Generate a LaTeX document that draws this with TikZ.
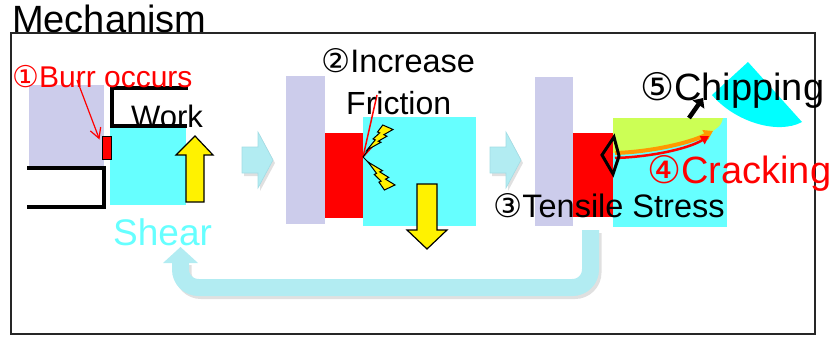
\documentclass[tikz,border=0pt]{standalone}
\usepackage{fontspec}
\setmainfont{Liberation Sans}
\newfontfamily\cnfont{DejaVu Sans}
\usepackage{xcolor}
\usepackage{tikz}
\usetikzlibrary{arrows.meta}

\definecolor{lavend}{HTML}{CCCCEB}
\definecolor{workcyan}{HTML}{66FFFF}
\definecolor{chipcyan}{HTML}{00FFFF}
\definecolor{flowblue}{HTML}{B2ECF2}
\definecolor{flowedge}{HTML}{A2DCE4}
\definecolor{crackgreen}{HTML}{CCFF55}
\definecolor{crackorange}{HTML}{FF9900}

\newcommand{\cn}[1]{{\cnfont #1}}

\tikzset{
  bolt/.pic={
    \draw[fill=yellow, draw=black, line width=1pt, line join=miter]
      (0.392,0) -- (0.595,0.281) -- (0.512,0.315) -- (0.767,0.556) -- (0.684,0.596)
      -- (1,1) -- (0.464,0.690) -- (0.566,0.648) -- (0.233,0.449) -- (0.352,0.388)
      -- (0,0.180) -- cycle;
  }
}

\begin{document}
\begin{tikzpicture}[x=1pt,y=-1pt,
    lbl/.style={inner sep=0pt, anchor=base west},
    tool/.style={line width=4pt, line join=miter},
    yarrow/.style={fill=yellow, draw=black, line width=1.2pt, line join=miter},
    flow/.style={fill=flowblue, draw=flowedge, line width=0.6pt},
    shade/.style={fill=black, opacity=0.12}]
  \useasboundingbox (0,0) rectangle (836,337);

  % frame
  \draw[line width=1.5pt, black!85] (11,33) rectangle (815,334);
  \node[lbl, font=\fontsize{38}{42}\selectfont] (title) at (12,33) {Mechanism};

  % step 1: burr
  \fill[lavend] (29,85) rectangle (104,166);
  \fill[workcyan] (110,127) rectangle (186,205);
  \draw[tool] (188,88) -- (112,88) -- (112,126) -- (187,126);
  \draw[tool] (27,168) -- (104,168) -- (104,207) -- (27,207);
  \node[draw=black, fill=red, line width=1pt, inner sep=0pt,
        minimum width=9pt, minimum height=23pt] (burr) at (106.5,147.5) {};
  \draw[yarrow] (186,202) -- (186,155) -- (176,155) -- (195,136) -- (213,155)
    -- (204,155) -- (204,202) -- cycle;
  \node[lbl, font=\fontsize{31}{36}\selectfont] (work) at (131,128) {Work};
  \node[lbl, red, font=\fontsize{30}{34}\selectfont] (burrtxt) at (12,88) {\cn{①}Burr occurs};
  \coordinate (burrtail) at (77,80);
  \draw[red, line width=1.2pt, -{Straight Barb[length=10pt,width=11pt]}]
    (burrtail) -- ([xshift=-2pt,yshift=-4pt]burr.north west);
  \node[lbl, workcyan, font=\fontsize{37}{42}\selectfont] (shear) at (113,245) {Shear};

  % arrows between steps
  \foreach \ax in {242,490} {
    \fill[shade] (\ax+2,150) -- (\ax+18,150) -- (\ax+18,135) -- (\ax+33,163)
      -- (\ax+18,191) -- (\ax+18,176) -- (\ax+2,176) -- cycle;
    \draw[flow] (\ax,147) -- (\ax+16,147) -- (\ax+16,132) -- (\ax+31,160)
      -- (\ax+16,188) -- (\ax+16,173) -- (\ax,173) -- cycle;
  }

  % step 2: friction
  \fill[lavend] (286,76) rectangle (325,224);
  \fill[red] (325,133) rectangle (363,218);
  \fill[workcyan] (363,117) rectangle (476,226);
  \coordinate (contact) at (363,157);
  \draw[red, line width=1.5pt] (contact) -- (377,95);
  \draw[red, line width=1.5pt] (contact) -- (379,139);
  \draw[line width=1pt] (contact) -- (368,150);
  \draw[line width=1pt] (contact) -- (369,163);
  \pic[shift={(393,125)}, xscale=-26, yscale=25] {bolt};
  \pic[shift={(395,190)}, xscale=-27, yscale=-28] {bolt};
  \draw[yarrow] (417,184) -- (437,184) -- (437,230) -- (447,230) -- (427,249)
    -- (407,230) -- (417,230) -- cycle;
  \node[lbl, font=\fontsize{32.5}{36}\selectfont] (incr) at (321,73) {\cn{②}Increase};
  \node[lbl, font=\fontsize{32}{36}\selectfont] (fric) at (346,114) {Friction};

  % step 3: tensile stress, cracking, chipping
  \fill[lavend] (535,77) rectangle (573,226);
  \fill[red] (573,133) rectangle (613,217);
  \fill[workcyan] (613,118) rectangle (727,227);
  \fill[crackgreen] (613,118) -- (723,118) .. controls (721,125) .. (713,131)
    .. controls (690,143) and (650,152) .. (615,153) -- (613,153) -- cycle;
  \draw[crackorange, line width=4pt, -{Triangle[length=9pt,width=11pt]}]
    (615,153) .. controls (650,152) and (690,143) .. (713,131);
  \draw[red, line width=2.5pt, -{Triangle[length=8pt,width=9pt]}]
    (615,158) .. controls (650,157) and (688,149) .. (709,136);
  \draw[line width=3pt, line join=miter] (602,155) -- (614,137) -- (619,156)
    -- (613,174) -- cycle;
  \fill[chipcyan] (748,62) -- (712,95) .. controls (735,122) and (778,135) .. (802,122) -- cycle;
  \draw[line width=4.5pt, -{Triangle[length=8pt,width=14pt]}] (689,118) -- (703,98);
  \node[lbl, font=\fontsize{32.5}{36}\selectfont] (tens) at (493,217) {\cn{③}Tensile Stress};
  \node[lbl, red, font=\fontsize{38}{42}\selectfont] (crack) at (647,183) {\cn{④}Cracking};
  \node[lbl, font=\fontsize{38}{42}\selectfont] (chip) at (640,100) {\cn{⑤}Chipping};

  % return to shear
  \coordinate (retstart) at (590.5,230);
  \coordinate (retend) at (180.5,262);
  \draw[line width=17pt, black, opacity=0.12, rounded corners=18pt]
    (593,233) -- (593,290.5) -- (183,290.5) -- (183,265);
  \draw[line width=17pt, flowblue, rounded corners=18pt]
    (retstart) -- (590.5,287.5) -- (180.5,287.5) -- (retend);
  \fill[flowblue] (163,263) -- (180.5,247) -- (198,263) -- cycle;
\end{tikzpicture}
\end{document}
